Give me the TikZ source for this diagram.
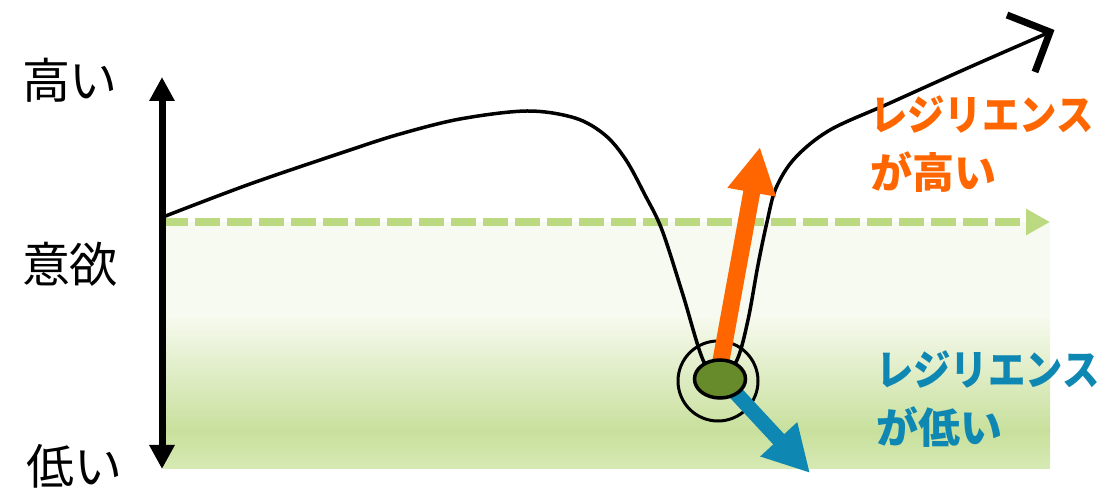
\documentclass[tikz,border=0pt]{standalone}
\usepackage{fontspec}
\newfontfamily\jp{Noto Sans CJK JP}
\usetikzlibrary{arrows.meta,shapes.geometric}
\definecolor{bglight}{RGB}{247,250,240}
\definecolor{bggreen}{RGB}{200,224,156}
\definecolor{bgbottom}{RGB}{214,233,180}
\definecolor{dashgreen}{RGB}{187,217,128}
\definecolor{ballgreen}{RGB}{103,138,42}
\definecolor{hiorange}{RGB}{255,102,0}
\definecolor{loblue}{RGB}{14,135,178}
\tikzset{
  axislabel/.style={font=\jp\fontsize{48}{52}\selectfont, inner sep=0pt},
  reslabel/.style={font=\jp\bfseries\fontsize{42}{58}\selectfont, inner sep=0pt, anchor=west, align=left},
  curve/.style={line width=3.5pt, black, line join=round},
}
\newcommand{\narrowkana}[1]{\scalebox{0.89}[1]{#1}}
\begin{document}
\begin{tikzpicture}[x=1pt,y=-1pt]
\useasboundingbox (0,0) rectangle (1104,494);
% background band
\fill[bglight] (163,222) rectangle (1050,316);
\shade[top color=bglight, bottom color=bggreen] (163,315) rectangle (1050,431);
\shade[top color=bggreen, bottom color=bgbottom] (163,430) rectangle (1050,468);
% dashed threshold
\coordinate (dS) at (163,222);
\coordinate (dE) at (1050,222);
\draw[dashgreen, line width=8pt, dash pattern=on 25pt off 7pt,
  -{Triangle[length=24pt,width=25pt]}] (dS) -- (dE);
% axis
\coordinate (aTop) at (162,77);
\coordinate (aBot) at (162,469);
\draw[line width=7pt, {Triangle[length=24pt,width=24pt]}-{Triangle[length=24pt,width=24pt]}] (aBot) -- (aTop);
% outer ring
\node[draw, circle, line width=3pt, minimum size=80pt, inner sep=0pt] (ring) at (718,381) {};
% motivation curve
\coordinate (tipR) at (1050,32);
\draw[curve] plot[smooth, tension=0.55] coordinates {
  (163,217) (250,184) (350,150) (400,134) (460,119) (527,111) (575,118)
  (605,135) (626,160) (645,195) (662,230) (683,295) (703,360) (720,380)
  (737,360) (748,320) (758,265) (767,222) (776,188) (795,158) (830,130)
  (890,103) (970,67) (tipR)};
\draw[line width=7pt, miter limit=10] (1007,15) -- (tipR) -- (1035,72);
% arrows
\coordinate (oS) at (720,366);
\coordinate (oE) at (760,147);
\draw[hiorange, line width=17pt, -{Triangle[length=46pt,width=46pt]}] (oS) -- (oE);
\coordinate (bS) at (733,390);
\coordinate (bE) at (810,473);
\draw[loblue, line width=15pt, -{Triangle[length=46pt,width=47pt]}] (bS) -- (bE);
% ball
\node[draw, ellipse, fill=ballgreen, line width=3.5pt, minimum width=51pt, minimum height=38pt, inner sep=0pt] (ball) at (720,379) {};
% labels
\node[axislabel] (high) at (70,80) {高い};
\node[axislabel] (mot) at (70,264) {意欲};
\node[axislabel] (low) at (75,466) {低い};
\node[reslabel, text=hiorange] (resH) at (870,144) {\narrowkana{レジリエンス}\\が高い};
\node[reslabel, text=loblue] (resL) at (876,399) {\narrowkana{レジリエンス}\\が低い};
\end{tikzpicture}
\end{document}
